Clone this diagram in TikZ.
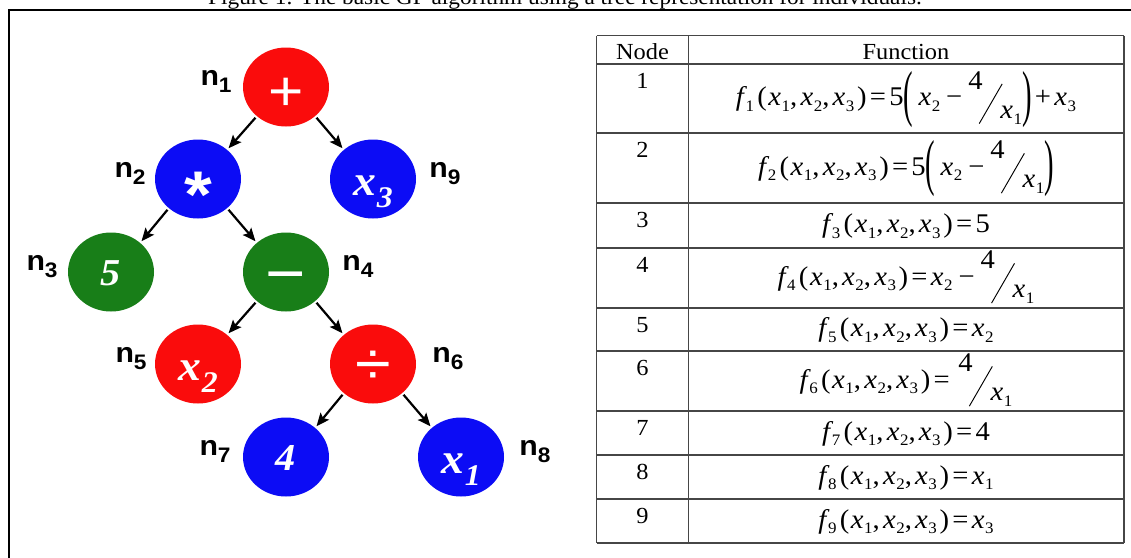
\documentclass[tikz,border=0pt]{standalone}
\usepackage{fontspec}
\setmainfont{Liberation Serif}[FakeStretch=1.06]
\setsansfont{Liberation Sans}[FakeStretch=1.08]
\usetikzlibrary{arrows.meta,shapes.geometric,positioning}
\definecolor{gpred}{RGB}{250,12,12}
\definecolor{gpblue}{RGB}{12,12,245}
\definecolor{gpgreen}{RGB}{24,126,24}
\definecolor{gridgray}{RGB}{70,70,70}

% tree labels and symbols
\newcommand{\nlab}[1]{{\sffamily\bfseries\fontsize{28}{28}\selectfont n\raisebox{-7pt}{\fontsize{21}{21}\selectfont #1}}}
\newcommand{\opsym}[3]{\raisebox{#2pt}{\fontsize{#1}{#1}\selectfont\sffamily #3}}
\newcommand{\leafx}[1]{\raisebox{-6pt}{\fontsize{43}{43}\selectfont\bfseries\itshape x\kern.02em\raisebox{-12pt}{\fontsize{30}{30}\selectfont #1}}}
\newcommand{\leafn}[1]{\raisebox{-3.5pt}{\fontsize{38}{38}\selectfont\bfseries\itshape #1}}
% table formulas
\newcommand{\lowsub}[1]{\raisebox{-.22em}{\fontsize{16}{16}\selectfont#1}}
\newcommand{\xv}[1]{\textit{x}\kern.02em\lowsub{#1}}
\newcommand{\fv}[1]{\textit{f}\kern-.06em\lowsub{#1}}
\newcommand{\fargs}{\kern.12em(\kern.06em\xv{1},\kern.12em\xv{2},\kern.12em\xv{3}\kern.1em)}
\newcommand{\eqs}{\kern.12em=\kern.12em}
\newcommand{\gpminus}{\kern.22em−\kern.22em}
\newcommand{\gpplus}{\kern.12em+\kern.12em}
\newcommand{\gpparen}[1]{\raisebox{-.32em}{\scalebox{1}[2.3]{#1}}}
\newcommand{\gpfrac}{\raisebox{.6em}{4}\kern-.14em\raisebox{-.68em}{\rotatebox{60}{\rule{1.7em}{.035em}}}\kern-.08em\raisebox{-.47em}{\xv{1}}}

\begin{document}
\begin{tikzpicture}[x=1pt,y=-1pt,
    gpnode/.style={ellipse,minimum width=86pt,minimum height=79pt,inner sep=0pt,
                   text=white,text height=20pt,text depth=0pt},
    lbl/.style={inner sep=0pt},
    arr/.style={-{Stealth[length=13pt,width=11pt,inset=2.5pt]},line width=2.2pt,
                shorten <=2pt,shorten >=2pt},
    grid/.style={draw=gridgray,line width=1.6pt},
    cell/.style={inner sep=0pt,anchor=base,font=\fontsize{23}{23}\selectfont},
    fn/.style={inner sep=0pt,anchor=base,font=\fontsize{27}{27}\selectfont}]
  \useasboundingbox (0,0) rectangle (1131,557);
  \fill[white] (0,0) rectangle (1131,557);
  \clip (0,0) rectangle (1131,557);

  % caption, cut at the top
  \node[anchor=base,inner sep=0pt,font=\fontsize{22}{22}\selectfont] (cap) at (565,4.5)
    {Figure 1. The basic GP algorithm using a tree representation for individuals.};
  \draw[line width=2pt] (8.5,600) -- (8.5,9.5) -- (1200,9.5);

  % tree
  \node[gpnode,fill=gpred]   (n1) at (286,87)  {\opsym{56}{-13.6}{+}};
  \node[gpnode,fill=gpblue]  (n2) at (198,179) {\opsym{66}{-28}{\bfseries *}};
  \node[gpnode,fill=gpblue]  (n9) at (373,179) {\leafx{3}};
  \node[gpnode,fill=gpgreen] (n3) at (111,272) {\leafn{5}};
  \node[gpnode,fill=gpgreen] (n4) at (286,272) {\opsym{64}{-13.8}{−}};
  \node[gpnode,fill=gpred]   (n5) at (198,364) {\leafx{2}};
  \node[gpnode,fill=gpred]   (n6) at (373,364) {\opsym{60}{-10.4}{÷}};
  \node[gpnode,fill=gpblue]  (n7) at (286,457) {\leafn{4}};
  \node[gpnode,fill=gpblue]  (n8) at (461,457) {\leafx{1}};

  \node[lbl,anchor=base east] (l1) at ([xshift=-11pt,yshift=2pt]n1.west) {\nlab{1}};
  \node[lbl,anchor=base east] (l2) at ([xshift=-9pt,yshift=2pt]n2.west) {\nlab{2}};
  \node[lbl,anchor=base east] (l3) at ([xshift=-10pt,yshift=2pt]n3.west) {\nlab{3}};
  \node[lbl,anchor=base east] (l5) at ([xshift=-8pt,yshift=2pt]n5.west) {\nlab{5}};
  \node[lbl,anchor=base east] (l7) at ([xshift=-12pt,yshift=2pt]n7.west) {\nlab{7}};
  \node[lbl,anchor=base west] (l9) at ([xshift=13pt,yshift=2pt]n9.east) {\nlab{9}};
  \node[lbl,anchor=base west] (l4) at ([xshift=13pt,yshift=2pt]n4.east) {\nlab{4}};
  \node[lbl,anchor=base west] (l6) at ([xshift=16pt,yshift=2pt]n6.east) {\nlab{6}};
  \node[lbl,anchor=base west] (l8) at ([xshift=15pt,yshift=2pt]n8.east) {\nlab{8}};

  \draw[arr] (n1.225) -- (n2.45);  \draw[arr] (n1.315) -- (n9.135);
  \draw[arr] (n2.225) -- (n3.45);  \draw[arr] (n2.315) -- (n4.135);
  \draw[arr] (n4.225) -- (n5.45);  \draw[arr] (n4.315) -- (n6.135);
  \draw[arr] (n6.225) -- (n7.45);  \draw[arr] (n6.315) -- (n8.135);

  % table
  \foreach \yy in {35.5,64,133,203,248,308,351,411,455,499,543}
    \draw[grid] (596.5,\yy) -- (1124,\yy);
  \foreach \xx in {596.5,688.5,1124}
    \draw[grid] (\xx,35.5) -- (\xx,543);
  \node[cell] (hnode) at (642.5,59) {Node};
  \node[cell] (hfunc) at (906,59) {Function};
  \foreach \i/\yy in {1/64,2/133,3/203,4/248,5/308,6/351,7/411,8/455,9/499}
    \node[cell] (r\i) at (642.5,\yy+24) {\i};

  \node[fn] (f1) at (906,105.5) {\fv{1}\fargs\eqs5\gpparen{(}\kern.2em\xv{2}\gpminus\gpfrac\gpparen{)}\gpplus\xv{3}};
  \node[fn] (f2) at (906,175)   {\fv{2}\fargs\eqs5\gpparen{(}\kern.2em\xv{2}\gpminus\gpfrac\gpparen{)}};
  \node[fn] (f3) at (906,232.5) {\fv{3}\fargs\eqs5};
  \node[fn] (f4) at (906,285)   {\fv{4}\fargs\eqs\xv{2}\gpminus\gpfrac};
  \node[fn] (f5) at (906,336.5) {\fv{5}\fargs\eqs\xv{2}};
  \node[fn] (f6) at (906,388)   {\fv{6}\fargs\eqs\kern.2em\gpfrac};
  \node[fn] (f7) at (906,440)   {\fv{7}\fargs\eqs4};
  \node[fn] (f8) at (906,484)   {\fv{8}\fargs\eqs\xv{1}};
  \node[fn] (f9) at (906,528)   {\fv{9}\fargs\eqs\xv{3}};
\end{tikzpicture}
\end{document}
